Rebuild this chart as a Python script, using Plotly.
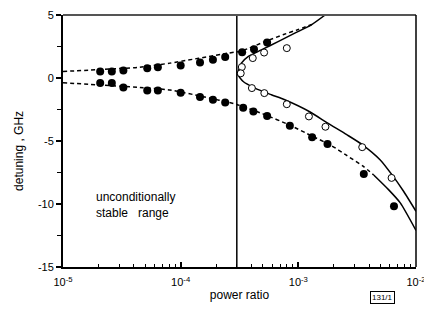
import plotly.graph_objects as go

# ---- data ----
# filled circles, upper branch
fu_x = [2.07e-5, 2.6e-5, 3.26e-5, 5.2e-5, 6.4e-5, 1.0e-4, 1.46e-4, 1.88e-4, 2.39e-4, 3.33e-4, 4.2e-4, 5.43e-4]
fu_y = [0.52, 0.52, 0.59, 0.78, 0.86, 0.99, 1.23, 1.44, 1.66, 2.05, 2.29, 2.81]
# filled circles, lower branch
fl_x = [2.07e-5, 2.6e-5, 3.26e-5, 5.2e-5, 6.4e-5, 1.0e-4, 1.46e-4, 1.88e-4, 2.39e-4, 3.4e-4, 4.15e-4, 5.43e-4, 8.47e-4, 1.31e-3, 1.77e-3, 3.6e-3, 6.5e-3]
fl_y = [-0.40, -0.40, -0.75, -0.99, -0.99, -1.18, -1.51, -1.73, -1.94, -2.36, -2.65, -3.02, -3.79, -4.70, -5.24, -7.61, -10.18]
# open circles
op_x = [7.98e-4, 5.12e-4, 4.1e-4, 3.31e-4, 3.24e-4, 4.03e-4, 5.14e-4, 7.98e-4, 1.23e-3, 1.70e-3, 3.49e-3, 6.2e-3]
op_y = [2.37, 2.02, 1.58, 0.87, 0.37, -0.80, -1.20, -2.08, -3.05, -3.87, -5.49, -7.93]

# curves
up_dash_x = [1e-5, 4.5e-5, 8.1e-5, 2.53e-4, 3.3e-4, 5.4e-4, 7.5e-4, 1.0e-3, 1.3e-3]
up_dash_y = [0.52, 0.86, 1.18, 1.97, 2.15, 2.95, 3.45, 3.85, 4.25]
lo_dash_x = [1e-5, 4.5e-5, 8.1e-5, 1.5e-4, 3e-4, 5e-4, 8.5e-4, 1.3e-3, 1.86e-3, 2.58e-3, 3.55e-3, 4.37e-3]
lo_dash_y = [-0.38, -0.75, -0.95, -1.45, -2.1, -2.85, -3.75, -4.6, -5.3, -6.15, -7.0, -7.7]
lo_solid_x = [4.37e-3, 5.84e-3, 7.35e-3, 1e-2]
lo_solid_y = [-7.7, -8.86, -9.91, -12.1]
c_x = [1.69e-3, 1.29e-3, 9.33e-4, 6.73e-4, 4.85e-4, 3.74e-4, 3.28e-4, 3.06e-4, 3.4e-4, 4.27e-4, 5.9e-4, 7.67e-4, 1.26e-3, 1.75e-3, 2.58e-3, 3.51e-3, 4.97e-3, 6.24e-3, 7.84e-3, 1e-2]
c_y = [5.0, 4.22, 3.56, 2.89, 2.23, 1.70, 1.18, 0.30, -0.28, -0.80, -1.33, -1.73, -2.7, -3.55, -4.5, -5.3, -6.5, -7.67, -8.99, -10.58]

x_tickvals = [1e-5, 1e-4, 1e-3, 1e-2]
x_ticktext = ["10<sup>-5</sup>", "10<sup>-4</sup>", "10<sup>-3</sup>", "10<sup>-2</sup>"]
y_tickvals = [5, 0, -5, -10, -15]
y_ticktext = ["5", "0", "-5", "-10", "-15"]
boundary_x = 3e-4

FONT = "Liberation Sans, Arial, sans-serif"

fig = go.Figure()
fig.add_trace(go.Scatter(x=up_dash_x, y=up_dash_y, mode="lines",
                         line=dict(color="black", width=1.5, dash="4px,3px", shape="spline", smoothing=0.6)))
fig.add_trace(go.Scatter(x=lo_dash_x, y=lo_dash_y, mode="lines",
                         line=dict(color="black", width=1.5, dash="4px,3px", shape="spline", smoothing=0.6)))
fig.add_trace(go.Scatter(x=lo_solid_x, y=lo_solid_y, mode="lines",
                         line=dict(color="black", width=1.5, shape="spline", smoothing=0.6)))
fig.add_trace(go.Scatter(x=c_x, y=c_y, mode="lines",
                         line=dict(color="black", width=1.5, shape="spline", smoothing=0.6)))
fig.add_trace(go.Scatter(x=fu_x, y=fu_y, mode="markers", marker=dict(color="black", size=8)))
fig.add_trace(go.Scatter(x=fl_x, y=fl_y, mode="markers", marker=dict(color="black", size=8)))
fig.add_trace(go.Scatter(x=op_x, y=op_y, mode="markers",
                         marker=dict(color="white", size=7, line=dict(color="black", width=1))))

# boundary vertical line
fig.add_shape(type="line", xref="x", yref="paper", x0=boundary_x, x1=boundary_x, y0=0, y1=1,
              line=dict(color="black", width=1.5))
# frame top and right
fig.add_shape(type="line", xref="paper", yref="paper", x0=0, x1=1, y0=1, y1=1,
              line=dict(color="#555", width=2))
fig.add_shape(type="line", xref="paper", yref="paper", x0=1, x1=1, y0=0, y1=1,
              line=dict(color="black", width=1.5))

minor_x = [m * 10 ** e for e in (-5, -4, -3) for m in range(2, 10)]

fig.update_xaxes(type="log", range=[-5, -2], showgrid=False, zeroline=False, automargin=False,
                 showline=True, linecolor="black", linewidth=2,
                 tickmode="array", tickvals=x_tickvals, ticktext=x_ticktext,
                 ticks="inside", ticklen=5, tickcolor="black", tickwidth=1.5,
                 ticklabelstandoff=4,
                 minor=dict(tickmode="array", tickvals=minor_x, ticks="inside", ticklen=3,
                            tickcolor="black", tickwidth=1, showgrid=False),
                 tickfont=dict(size=11, color="black", family=FONT),
                 title=dict(text="power ratio", font=dict(size=12, color="black", family=FONT), standoff=3))
fig.update_yaxes(range=[-15, 5], showgrid=False, zeroline=False, automargin=False,
                 showline=True, linecolor="black", linewidth=2,
                 tickmode="array", tickvals=y_tickvals, ticktext=y_ticktext,
                 ticks="outside", ticklen=5, tickcolor="black", tickwidth=1.5,
                 minor=dict(dtick=2.5, tick0=0, ticks="outside", ticklen=4, tickcolor="black",
                            tickwidth=1, showgrid=False),
                 tickfont=dict(size=11, color="black", family=FONT))

fig.add_annotation(xref="paper", yref="paper", x=-0.125, y=0.46, xanchor="center", yanchor="middle",
                   text="detuning , GHz", textangle=-90, showarrow=False,
                   font=dict(size=12, color="black", family=FONT))
fig.add_annotation(xref="x", yref="y", x=-4.74, y=-10.1, xanchor="left", yanchor="middle",
                   text="unconditionally<br>stable   range", showarrow=False, align="left",
                   font=dict(size=12, color="black", family=FONT))
fig.add_annotation(xref="paper", yref="paper", x=0.905, y=-0.12, xanchor="center", yanchor="middle",
                   text="131/1", showarrow=False, bordercolor="black", borderwidth=1, borderpad=1,
                   font=dict(size=8, color="black", family=FONT))

# the page body adds an 8px offset, so the figure is sized to fit inside the window
fig.update_layout(width=424, height=315, margin=dict(l=55, r=16, t=7, b=56),
                  plot_bgcolor="white", paper_bgcolor="white", showlegend=False,
                  font=dict(family=FONT, color="black"))

fig.write_html("out.html")
